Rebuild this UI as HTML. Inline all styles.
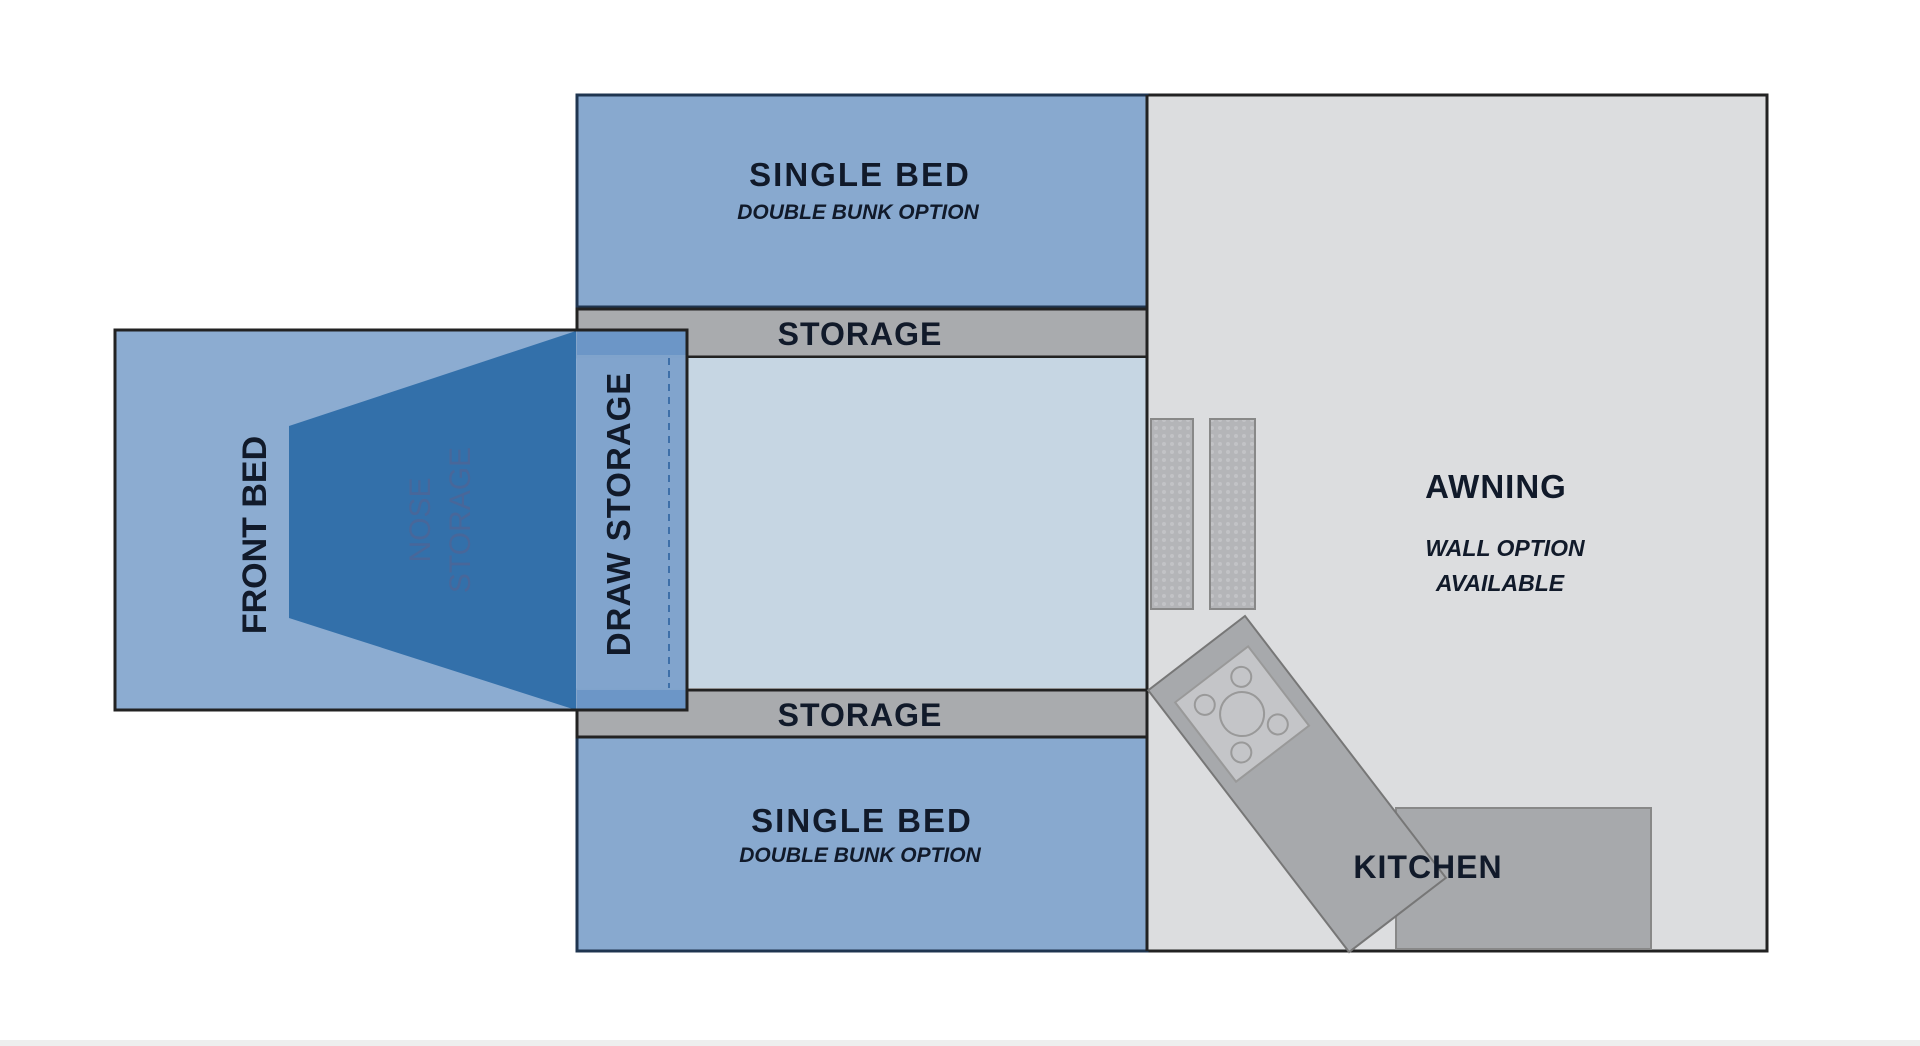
<!DOCTYPE html>
<html><head><meta charset="utf-8"><style>
html,body{margin:0;padding:0;background:#fff;}
svg{display:block;}
text{font-family:"Liberation Sans",sans-serif;font-weight:bold;fill:#111a2a;}
</style></head><body>
<svg width="1920" height="1046" viewBox="0 0 1920 1046" xmlns="http://www.w3.org/2000/svg">
<defs>
<pattern id="dots" width="8" height="8" patternUnits="userSpaceOnUse">
<rect width="8" height="8" fill="#b4b5b8"/><circle cx="4" cy="4" r="2" fill="#c2c3c6"/>
</pattern>
</defs>
<rect x="0" y="1040" width="1920" height="6" fill="#eeeeee"/>
<rect x="1147" y="95" width="620" height="856" fill="#dcdddf" stroke="#222" stroke-width="3"/>
<rect x="577" y="95" width="570" height="212" fill="#88a9cf" stroke="#1f3550" stroke-width="3"/>
<rect x="577" y="737" width="570" height="214" fill="#88a9cf" stroke="#1f3550" stroke-width="3"/>
<rect x="577" y="309" width="570" height="48" fill="#a9abae" stroke="#222" stroke-width="3"/>
<rect x="577" y="690" width="570" height="47" fill="#a9abae" stroke="#222" stroke-width="3"/>
<rect x="577" y="358" width="570" height="330" fill="#c6d6e3"/>
<line x1="1147" y1="95" x2="1147" y2="951" stroke="#222" stroke-width="3"/>
<rect x="115" y="330" width="572" height="380" fill="#88a9cf" fill-opacity="0.97" stroke="#222" stroke-width="3"/>
<polygon points="289,426 576,331 576,710 289,618" fill="#3370aa"/>
<rect x="577" y="331" width="109" height="378" fill="#7fa3cc" fill-opacity="0.9"/>
<rect x="577" y="331" width="109" height="24" fill="#5f8ec3" fill-opacity="0.6"/>
<rect x="577" y="690" width="109" height="20" fill="#5f8ec3" fill-opacity="0.6"/>
<rect x="115" y="330" width="572" height="380" fill="none" stroke="#222" stroke-width="3"/>
<line x1="669" y1="358" x2="669" y2="688" stroke="#3d6fa8" stroke-width="2" stroke-dasharray="7,6"/>
<text transform="translate(266,535) rotate(-90)" font-size="34" text-anchor="middle">FRONT BED</text>
<text transform="translate(430,520) rotate(-90)" font-size="30" text-anchor="middle" style="fill:#48679a;font-weight:normal">NOSE</text>
<text transform="translate(470,520) rotate(-90)" font-size="30" text-anchor="middle" style="fill:#48679a;font-weight:normal">STORAGE</text>
<text transform="translate(630,514) rotate(-90)" font-size="33" text-anchor="middle" letter-spacing="1">DRAW STORAGE</text>
<text x="860" y="186" font-size="33" text-anchor="middle" letter-spacing="2">SINGLE BED</text>
<text x="858" y="219" font-size="21" text-anchor="middle" font-style="italic">DOUBLE BUNK OPTION</text>
<text x="860" y="345" font-size="32" text-anchor="middle" letter-spacing="1">STORAGE</text>
<text x="860" y="726" font-size="32" text-anchor="middle" letter-spacing="1">STORAGE</text>
<text x="862" y="832" font-size="33" text-anchor="middle" letter-spacing="2">SINGLE BED</text>
<text x="860" y="862" font-size="21" text-anchor="middle" font-style="italic">DOUBLE BUNK OPTION</text>
<rect x="1151" y="419" width="42" height="190" fill="url(#dots)" stroke="#888" stroke-width="2"/>
<rect x="1210" y="419" width="45" height="190" fill="url(#dots)" stroke="#888" stroke-width="2"/>
<rect x="1396" y="808" width="255" height="141" fill="#a7a9ac" stroke="#888" stroke-width="2"/>
<g transform="translate(1245,616) rotate(52.5)">
<rect x="0" y="0" width="330" height="122" fill="#a7a9ac" stroke="#777" stroke-width="2"/>
<rect x="26" y="16" width="100" height="92" fill="#c4c5c8" stroke="#999" stroke-width="2"/>
<circle cx="76" cy="62" r="22" fill="none" stroke="#999" stroke-width="2"/>
<circle cx="46" cy="40" r="10" fill="none" stroke="#999" stroke-width="2"/>
<circle cx="106" cy="40" r="10" fill="none" stroke="#999" stroke-width="2"/>
<circle cx="46" cy="86" r="10" fill="none" stroke="#999" stroke-width="2"/>
<circle cx="106" cy="86" r="10" fill="none" stroke="#999" stroke-width="2"/>
</g>
<text x="1496" y="498" font-size="33" text-anchor="middle" letter-spacing="1">AWNING</text>
<text x="1505" y="556" font-size="23" text-anchor="middle" font-style="italic">WALL OPTION</text>
<text x="1500" y="591" font-size="23" text-anchor="middle" font-style="italic">AVAILABLE</text>
<text x="1428" y="878" font-size="32" text-anchor="middle" letter-spacing="1">KITCHEN</text>
</svg>
</body></html>
